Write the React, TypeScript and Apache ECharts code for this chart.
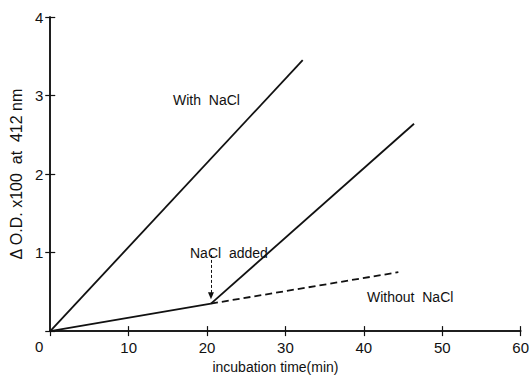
import React, { useEffect, useRef } from "react";
import * as echarts from "echarts";

const xTicks = [0, 10, 20, 30, 40, 50, 60];
const yTicks = [0, 1, 2, 3, 4];
const withNaCl: [number, number][] = [[0, 0], [32.2, 3.45]];
const withoutNaClBefore: [number, number][] = [[0, 0], [20.5, 0.35]];
const withoutNaClAfter: [number, number][] = [[20.5, 0.35], [44.4, 0.75]];
const naclAddedLine: [number, number][] = [[20.5, 0.35], [46.4, 2.64]];
const arrowFrom: [number, number] = [20.5, 0.97];
const arrowTo: [number, number] = [20.5, 0.45];

const FONT = "Liberation Sans";
const INK = "#111";

export default function App() {
  const ref = useRef<HTMLDivElement>(null);
  useEffect(() => {
    const chart = echarts.init(ref.current!, null, { renderer: "svg" });
    const axisBase = {
      type: "value" as const,
      axisLine: { show: true, lineStyle: { color: INK, width: 1.5 } },
      axisTick: { show: true, inside: true, length: 5, lineStyle: { color: INK, width: 1.2 } },
      splitLine: { show: false },
    };
    chart.setOption({
      animation: false,
      backgroundColor: "#fff",
      grid: { left: 47, top: 17, right: 8, bottom: 40 },
      xAxis: [
        {
          ...axisBase,
          position: "bottom",
          min: xTicks[0],
          max: xTicks[xTicks.length - 1],
          interval: 10,
          name: "incubation time(min)",
          nameLocation: "middle",
          nameGap: 27,
          nameTextStyle: { fontFamily: FONT, fontSize: 14, color: INK, padding: [0, 20, 0, 0] },
          axisLabel: {
            showMinLabel: false,
            margin: 9,
            fontFamily: FONT,
            fontSize: 15,
            color: INK,
          },
        },
        {
          ...axisBase,
          position: "top",
          min: xTicks[0],
          max: xTicks[xTicks.length - 1],
          interval: 10,
          axisLabel: { show: false },
        },
      ],
      yAxis: [
        {
          ...axisBase,
          position: "left",
          min: yTicks[0],
          max: yTicks[yTicks.length - 1],
          interval: 1,
          name: "Δ O.D. x100  at  412 nm",
          nameLocation: "middle",
          nameGap: 20,
          nameTextStyle: { fontFamily: FONT, fontSize: 16, color: INK },
          axisLabel: {
            margin: 7,
            fontFamily: FONT,
            fontSize: 15,
            color: INK,
            formatter: (v: number) => (v === 0 ? "{z|0}" : String(v)),
            rich: { z: { fontFamily: FONT, fontSize: 15, color: INK, padding: [30, 0, 0, 0] } },
          },
        },
        {
          ...axisBase,
          position: "right",
          min: yTicks[0],
          max: yTicks[yTicks.length - 1],
          interval: 1,
          axisLabel: { show: false },
        },
      ],
      series: [
        {
          type: "line",
          data: withNaCl,
          symbol: "none",
          lineStyle: { color: INK, width: 1.8 },
        },
        {
          type: "line",
          data: withoutNaClBefore,
          symbol: "none",
          lineStyle: { color: INK, width: 1.8 },
        },
        {
          type: "line",
          data: withoutNaClAfter,
          symbol: "none",
          lineStyle: { color: INK, width: 1.8, type: [7, 4] },
        },
        {
          type: "line",
          data: naclAddedLine,
          symbol: "none",
          lineStyle: { color: INK, width: 1.8 },
          markLine: {
            silent: true,
            symbol: ["none", "triangle"],
            symbolSize: [6, 7],
            label: { show: false },
            lineStyle: { color: INK, width: 1, type: [3, 2] },
            data: [[{ coord: arrowFrom }, { coord: arrowTo }]],
          },
        },
      ],
      graphic: [
        {
          type: "text",
          left: 173,
          top: 93,
          style: { text: "With  NaCl", font: `14px "${FONT}"`, fill: INK },
        },
        {
          type: "text",
          left: 190,
          top: 246,
          style: { text: "NaCl  added", font: `14px "${FONT}"`, fill: INK },
        },
        {
          type: "text",
          left: 367,
          top: 290,
          style: { text: "Without  NaCl", font: `14px "${FONT}"`, fill: INK },
        },
      ],
    });
    return () => chart.dispose();
  }, []);
  return (
    <div
      ref={ref}
      style={{ position: "fixed", left: 0, top: 0, width: 532, height: 379 }}
    />
  );
}
